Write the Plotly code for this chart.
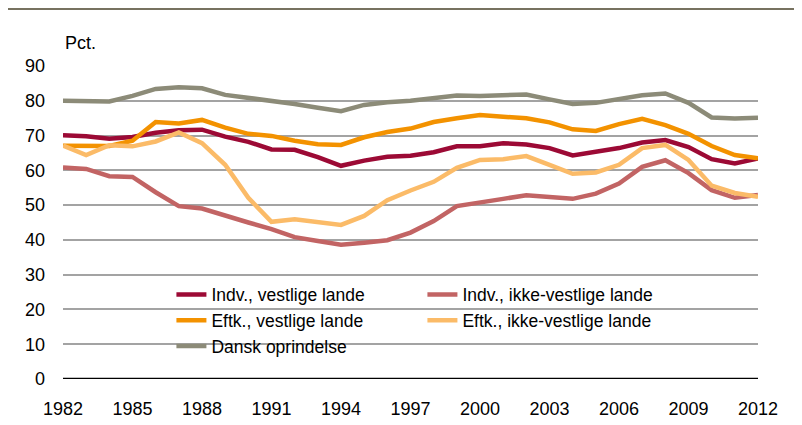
import plotly.graph_objects as go

years = list(range(1982, 2013))

indv_vest = [70.1, 69.8, 69.1, 69.6, 70.8, 71.5, 71.7, 69.7, 68.2, 66.0, 65.9,
             63.8, 61.3, 62.8, 63.9, 64.2, 65.2, 66.9, 66.9, 67.8, 67.4,
             66.4, 64.3, 65.4, 66.4, 68.0, 68.7, 66.7, 63.2, 62.0, 63.4]
indv_ikke = [60.8, 60.4, 58.3, 58.1, 53.7, 49.7, 49.0, 46.9, 45.0, 43.1, 40.8,
             39.7, 38.6, 39.2, 39.9, 42.1, 45.4, 49.7, 50.9, 51.8, 52.8,
             52.4, 51.8, 53.3, 56.2, 61.0, 62.9, 59.2, 54.3, 52.1, 52.9]
eftk_vest = [67.1, 67.1, 67.0, 68.5, 73.9, 73.5, 74.5, 72.3, 70.5, 69.9, 68.5,
             67.5, 67.3, 69.5, 71.0, 72.0, 73.9, 75.0, 75.9, 75.4, 75.0,
             73.8, 71.8, 71.3, 73.3, 74.8, 73.0, 70.5, 67.0, 64.4, 63.5]
eftk_ikke = [67.1, 64.4, 67.2, 66.9, 68.3, 70.9, 67.8, 61.6, 52.1, 45.2, 45.9,
             45.0, 44.3, 46.9, 51.4, 54.2, 56.7, 60.7, 63.0, 63.2, 64.1,
             61.6, 59.0, 59.4, 61.6, 66.4, 67.3, 63.0, 55.6, 53.5, 52.4]
dansk = [80.0, 80.0, 79.8, 81.4, 83.4, 83.9, 83.6, 81.7, 80.9, 80.0, 79.1,
         78.0, 77.0, 78.8, 79.6, 80.0, 80.8, 81.5, 81.4, 81.7, 81.8,
         80.4, 79.1, 79.4, 80.4, 81.6, 82.1, 79.4, 75.2, 74.9, 75.1]

series_names = ["Indv., vestlige lande", "Indv., ikke-vestlige lande",
                "Eftk., vestlige lande", "Eftk., ikke-vestlige lande",
                "Dansk oprindelse"]
series_values = [indv_vest, indv_ikke, eftk_vest, eftk_ikke, dansk]
colors = ["#9c0a35", "#c26464", "#f39200", "#fbbb68", "#8c8b78"]

x_ticks = list(range(1982, 2013, 3))
y_ticks = list(range(0, 91, 10))

FONT = "Liberation Sans, Arial, sans-serif"

fig = go.Figure()
for name, vals, col in zip(series_names, series_values, colors):
    fig.add_trace(go.Scatter(x=years, y=vals, mode="lines", name=name,
                             line=dict(color=col, width=4.5)))

fig.update_layout(
    width=794, height=417,
    margin=dict(l=55, r=44, t=58, b=46, autoexpand=False),
    paper_bgcolor="white", plot_bgcolor="white",
    font=dict(family=FONT, size=18, color="#000000"),
    showlegend=True,
    legend=dict(orientation="h", x=0.156, y=0.327, xanchor="left", yanchor="top",
                entrywidth=206, entrywidthmode="pixels",
                bgcolor="rgba(0,0,0,0)", font=dict(size=17.5, family=FONT),
                traceorder="normal"),
    xaxis=dict(range=[1982, 2012], tickmode="array", tickvals=x_ticks,
               ticktext=[str(v) for v in x_ticks], showgrid=False,
               zeroline=False, showline=False, ticks="", automargin=False,
               ticklabelstandoff=17, tickfont=dict(size=18)),
    yaxis=dict(range=[0, 90], tickmode="array", tickvals=y_ticks,
               showgrid=True, gridcolor="#a3a3a3", gridwidth=1.5,
               zeroline=False, showline=False, ticks="", automargin=False,
               ticklabelstandoff=17, tickfont=dict(size=18)),
    shapes=[
        dict(type="line", xref="paper", yref="y", x0=0, x1=1, y0=0, y1=0,
             line=dict(color="#000000", width=2.5), layer="above"),
        dict(type="line", xref="paper", yref="paper", x0=-0.082, x1=1.07,
             y0=1.1825, y1=1.1825, line=dict(color="#777260", width=2.2)),
    ],
    annotations=[
        dict(text="Pct.", xref="paper", yref="paper", x=0.0, y=1.035,
             xanchor="left", yanchor="bottom", showarrow=False,
             font=dict(size=18, family=FONT)),
    ],
)

fig.write_html("out.html")
